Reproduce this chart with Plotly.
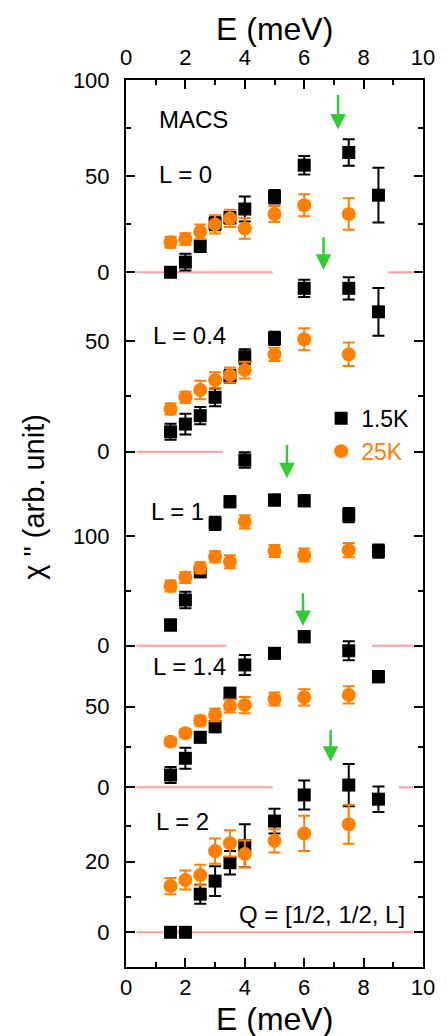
import plotly.graph_objects as go

# ---------------- data ----------------
E_15K = [1.5, 2, 2.5, 3, 3.5, 4, 5, 6, 7.5, 8.5]
E_25K = [1.5, 2, 2.5, 3, 3.5, 4, 5, 6, 7.5]

L_labels = ["L = 0", "L = 0.4", "L = 1", "L = 1.4", "L = 2"]

chi_15K_L0 = [0, 5.3, 13.6, 25.4, 28.4, 32.9, 39.3, 55.7, 62.3, 40.1]
err_15K_L0 = [1.5, 4.4, 3, 3.5, 3, 6.5, 3.5, 4.8, 6.9, 14.2]
chi_25K_L0 = [15.6, 17.3, 21.1, 24.9, 28, 22.8, 30.3, 34.9, 30.3]
err_25K_L0 = [2.9, 3, 3.8, 4.7, 4.5, 5.4, 4.2, 5.7, 8.2]

chi_15K_L04 = [9.0, 12.5, 16.3, 24.6, 34, 42.9, 51.2, 73.8, 73.8, 63.2]
err_15K_L04 = [3.6, 4.7, 3.9, 4, 3, 3.4, 3, 3.9, 5, 10.8]
chi_25K_L04 = [19.3, 24.6, 27.9, 32.4, 34.6, 36.9, 44, 50.8, 44]
err_25K_L04 = [2.5, 2.5, 4.2, 3.5, 3.4, 3.8, 3, 5, 5.3]

chi_15K_L1 = [18.9, 41.7, 67.5, 111.6, 131.3, 169.3, 132.8, 132.2, 119.1, 86.3]
err_15K_L1 = [5, 7.6, 5, 6, 5, 7, 5, 5, 6.5, 6]
chi_25K_L1 = [54.4, 62.3, 71.1, 81.1, 76.6, 113, 86.3, 82.7, 87.2]
err_25K_L1 = [5, 5, 5, 5, 6, 6, 5.5, 6, 6.5]

chi_15K_L14 = [7.6, 18, 31, 37.6, 58.3, 75.9, 83.1, 93.4, 84.7, 68.6]
err_15K_L14 = [5, 6.5, 3, 3.5, 3.5, 6.2, 3, 3.5, 5.9, 3.5]
chi_25K_L14 = [28.3, 33.5, 41.3, 44.9, 50.4, 51, 54.8, 55.8, 57.3]
err_25K_L14 = [2.5, 2.5, 3, 4, 4, 5, 4, 5, 5.4]

chi_15K_L2 = [0, 0, 10.8, 14.5, 19.7, 24.5, 31.5, 38.9, 41.7, 37.7]
err_15K_L2 = [0, 0, 2.7, 4.2, 3.3, 6.1, 3.5, 4.1, 6, 3.6]
chi_25K_L2 = [13.1, 14.8, 16.2, 23, 25.2, 22.2, 25.9, 28, 30.6]
err_25K_L2 = [2.3, 2.7, 2.9, 3.6, 3.7, 3.8, 3.3, 5, 5.5]

# peak arrows: energy, tip value, tail value (per panel)
arrow_E = [7.14, 6.65, 5.42, 5.96, 6.89]
arrow_tip = [74.2, 82.1, 152.6, 100, 48.3]
arrow_tail = [93, 97.6, 184.5, 121.3, 57.8]

# zero-line segments (E ranges) per panel
zero_segments = [
    [(0.35, 4.94), (8.83, 9.67)],
    [(0.35, 3.27)],
    [(0.35, 3.37), (8.28, 9.67)],
    [(0.35, 4.94), (9.19, 9.67)],
    [(0.35, 9.67)],
]

# per-panel axis configuration
y_ranges = [[-361.3, 100], [-232.7, 167.9], [-292.9, 515.8], [-111.5, 438.8], [-9.83, 241.4]]
y_major = [[0, 50, 100], [0, 50], [0, 100], [0, 50], [0, 20]]
y_minor = [[25, 75], [25], [50], [25], [10, 30]]
label_pos = [(1.05, 50.6), (0.85, 52.7), (0.78, 122), (0.85, 74.8), (0.95, 31.5)]

chi_15K = [chi_15K_L0, chi_15K_L04, chi_15K_L1, chi_15K_L14, chi_15K_L2]
err_15K = [err_15K_L0, err_15K_L04, err_15K_L1, err_15K_L14, err_15K_L2]
chi_25K = [chi_25K_L0, chi_25K_L04, chi_25K_L1, chi_25K_L14, chi_25K_L2]
err_25K = [err_25K_L0, err_25K_L04, err_25K_L1, err_25K_L14, err_25K_L2]

BLACK = "black"
ORANGE = "#ff8000"
GREEN = "#33cc33"
PINK = "#ff9e9e"
FONT = "Liberation Sans, Arial, sans-serif"

fig = go.Figure()
shapes = []
annotations = []

for i in range(5):
    yname = "y" if i == 0 else f"y{i+1}"
    show = (i == 1)
    fig.add_trace(go.Scatter(
        x=E_15K, y=chi_15K[i], yaxis=yname, mode="markers",
        name="1.5K", legendgroup="15K", showlegend=show,
        marker=dict(symbol="square", size=13, color=BLACK),
        error_y=dict(type="data", array=err_15K[i], color=BLACK, thickness=2, width=6),
    ))
    fig.add_trace(go.Scatter(
        x=E_25K, y=chi_25K[i], yaxis=yname, mode="markers",
        name=f'<span style="color:{ORANGE}">25K</span>', legendgroup="25K", showlegend=show,
        marker=dict(symbol="circle", size=14, color=ORANGE),
        error_y=dict(type="data", array=err_25K[i], color=ORANGE, thickness=2, width=6),
    ))
    for (a, b) in zero_segments[i]:
        shapes.append(dict(type="line", xref="x", yref=yname, x0=a, x1=b, y0=0, y1=0,
                           line=dict(color=PINK, width=2), layer="below"))
    annotations.append(dict(x=arrow_E[i], y=arrow_tip[i], ax=arrow_E[i], ay=arrow_tail[i],
                            xref="x", yref=yname, axref="x", ayref=yname, text="",
                            showarrow=True, arrowhead=2, arrowsize=1.25, arrowwidth=2.5,
                            arrowcolor=GREEN, standoff=0))
    annotations.append(dict(x=label_pos[i][0], y=label_pos[i][1], xref="x", yref=yname,
                            text=L_labels[i], showarrow=False, xanchor="left", yanchor="middle",
                            font=dict(size=24, color="black", family=FONT)))

# invisible trace so the top axis is rendered
fig.add_trace(go.Scatter(x=[0, 10], y=[0, 0], xaxis="x2", mode="markers",
                         marker=dict(opacity=0), showlegend=False, hoverinfo="skip"))

annotations.append(dict(x=1.05, y=79.6, xref="x", yref="y", text="MACS", showarrow=False,
                        xanchor="left", yanchor="middle", font=dict(size=24, color="black", family=FONT)))
annotations.append(dict(x=3.75, y=4.9, xref="x", yref="y5", text="Q = [1/2, 1/2, L]", showarrow=False,
                        xanchor="left", yanchor="middle", font=dict(size=24, color="black", family=FONT)))
annotations.append(dict(x=-0.31, y=0.53, xref="paper", yref="paper", text='χ " (arb. unit)',
                        showarrow=False, textangle=-90, xanchor="center", yanchor="middle",
                        font=dict(size=29, color="black", family=FONT)))
# axis titles (top and bottom)
annotations.append(dict(x=0.5, y=1.0575, xref="paper", yref="paper", text="E (meV)", showarrow=False,
                        xanchor="center", yanchor="middle", font=dict(size=32, color="black", family=FONT)))
annotations.append(dict(x=0.5, y=-0.0586, xref="paper", yref="paper", text="E (meV)", showarrow=False,
                        xanchor="center", yanchor="middle", font=dict(size=32, color="black", family=FONT)))

def xaxis_cfg(standoff):
    return dict(range=[0, 10], tickvals=[0, 2, 4, 6, 8, 10], ticks="inside", ticklen=9, tickwidth=2,
                tickcolor="black", showline=True, linewidth=2, linecolor="black", showgrid=False,
                zeroline=False, tickfont=dict(size=22, family=FONT, color="black"),
                ticklabelstandoff=standoff,
                minor=dict(tickvals=[1, 3, 5, 7, 9], ticks="inside", ticklen=5, tickwidth=2, tickcolor="black"))

layout = dict(
    width=447, height=1036,
    margin=dict(l=126, r=15, t=80, b=69),
    paper_bgcolor="white", plot_bgcolor="white",
    font=dict(family=FONT, color="black"),
    xaxis=dict(**xaxis_cfg(0), anchor="y", side="bottom"),
    xaxis2=dict(**xaxis_cfg(4), overlaying="x", anchor="y", side="top"),
    shapes=shapes, annotations=annotations,
    legend=dict(x=0.657, y=0.6, xanchor="left", yanchor="middle", bgcolor="rgba(0,0,0,0)",
                font=dict(size=23, family=FONT, color="black"), tracegroupgap=0),
)

for i in range(5):
    key = "yaxis" if i == 0 else f"yaxis{i+1}"
    ax = dict(range=y_ranges[i], domain=[0, 1], tickvals=y_major[i], ticks="inside", ticklen=9,
              tickwidth=2, tickcolor="black", showline=True, linewidth=2, linecolor="black",
              mirror="ticks", showgrid=False, zeroline=False, ticklabelstandoff=10,
              tickfont=dict(size=22, family=FONT, color="black"),
              minor=dict(tickvals=y_minor[i], ticks="inside", ticklen=5, tickwidth=2, tickcolor="black"))
    if i > 0:
        ax["overlaying"] = "y"
        ax["anchor"] = "x"
    layout[key] = ax

fig.update_layout(**layout)
fig.write_html("out.html")
